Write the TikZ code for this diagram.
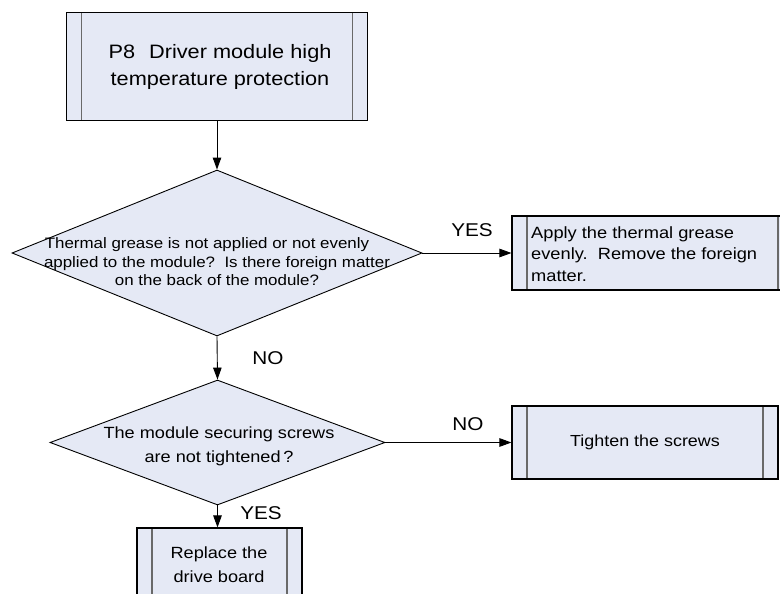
\documentclass[tikz,border=0pt]{standalone}
\usepackage{fontspec}
\setmainfont{Liberation Sans}[FakeStretch=1.12]
\usetikzlibrary{arrows.meta,shapes.geometric}
\definecolor{boxfill}{RGB}{229,233,245}
\definecolor{innergray}{RGB}{105,105,105}
\tikzset{
  proc/.style={draw=black, line width=1.1pt, fill=boxfill, rectangle, inner sep=0pt,
    path picture={
      \draw[innergray, line width=1.3pt]
        ([xshift=15pt]path picture bounding box.north west) --
        ([xshift=15pt]path picture bounding box.south west);
      \draw[innergray, line width=1.3pt]
        ([xshift=-15pt]path picture bounding box.north east) --
        ([xshift=-15pt]path picture bounding box.south east);
    }},
  dec/.style={draw=black, line width=0.9pt, fill=boxfill, diamond, inner sep=0pt},
  txt/.style={align=center, inner sep=0pt},
  arr/.style={-{Triangle[length=12pt,width=8.5pt]}, line width=0.9pt},
  lbl/.style={inner sep=0pt, font=\fontsize{18.5}{20}\selectfont}
}
\begin{document}
\begin{tikzpicture}[x=1pt, y=-1pt]
\clip (0,0) rectangle (780,594);
\fill[white] (0,0) rectangle (780,594);

% top process box
\node[proc, minimum width=301pt, minimum height=107.5pt] (top) at (217,66.5) {};
\node[txt, font=\fontsize{19.4}{27}\selectfont] (toptxt) at (220,67)
  {P8\hspace{14pt}Driver module high\\temperature protection};

% decision 1
\node[dec, minimum width=410pt, minimum height=166pt] (d1) at (217,253) {};
\node[txt, font=\fontsize{15.1}{18.5}\selectfont] (d1txt) at (217,262)
  {Thermal grease is not applied or not evenly\hspace*{20pt}\\applied to the module?\ \ Is there foreign matter\\on the back of the module?};

% box 1
\node[proc, minimum width=281pt, minimum height=74pt] (b1) at (652.5,253) {};
\node[inner sep=0pt, align=left, anchor=west, font=\fontsize{16.3}{21.5}\selectfont] (b1txt) at (531,254)
  {Apply the thermal grease\\evenly.\ \ Remove the foreign\\matter.};

% decision 2
\node[dec, minimum width=335pt, minimum height=125pt] (d2) at (217.5,442.5) {};
\node[txt, font=\fontsize{16.2}{24}\selectfont] (d2txt) at (219,446)
  {The module securing screws\\are not tightened\,?};

% box 2
\node[proc, minimum width=266pt, minimum height=73pt, font=\fontsize{16}{20}\selectfont] (b2) at (645,442.5) {Tighten the screws};

% box 3
\node[proc, minimum width=165pt, minimum height=74pt] (b3) at (219.5,565) {};
\node[txt, font=\fontsize{16.2}{24}\selectfont] (b3txt) at (219,565)
  {Replace the\\drive board};

% connectors
\draw[arr] (top.south) -- (d1.north);
\draw[arr] (d1.south) -- (d2.north);
\draw[arr] (d1.east) -- (b1.west);
\draw[arr] (d2.east) -- (b2.west);
\draw[arr] (d2.south) -- (d2.south |- b3.north);

% labels
\node[lbl] (yes1) at (472,230) {YES};
\node[lbl] (no1) at (268,358) {NO};
\node[lbl] (no2) at (468,424) {NO};
\node[lbl] (yes2) at (261,513) {YES};
\end{tikzpicture}
\end{document}
